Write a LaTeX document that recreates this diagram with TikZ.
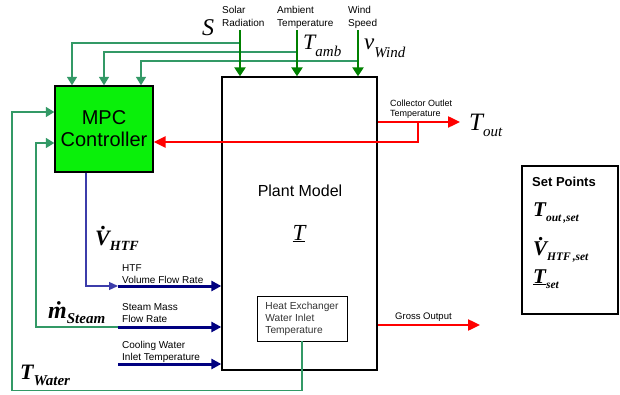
\documentclass[tikz,border=0pt]{standalone}
\usepackage{fontspec}
\setmainfont{Liberation Sans}
\newfontfamily\tms{Liberation Serif}
\usetikzlibrary{arrows.meta,positioning}
\definecolor{mpcgreen}{RGB}{10,240,10}
\definecolor{dkgreen}{RGB}{0,128,0}
\definecolor{sgreen}{RGB}{51,153,102}
\definecolor{navy}{RGB}{0,0,128}
\definecolor{vblue}{RGB}{60,60,170}
% [series]{size}{lower}{subsize}{main}{sub}
\newcommand{\varsym}[6][]{{\tms\itshape#1\fontsize{#2}{#2}\selectfont #5\raisebox{-#3}{\fontsize{#4}{#4}\selectfont #6}}}
\newcommand{\dotover}[1]{\ooalign{#1\cr\hidewidth\kern0.12em\raisebox{0.7em}{.}\hidewidth\cr}}

\begin{document}
\begin{tikzpicture}[x=1pt,y=-1pt,
    box/.style={draw,line width=1.3pt,inner sep=0pt},
    lbl/.style={font=\fontsize{10}{11.5}\selectfont,align=left,inner sep=0pt,anchor=north west},
    toplbl/.style={lbl,font=\fontsize{10}{13}\selectfont},
    feed/.style={draw=dkgreen,line width=2.6pt,-{Triangle[length=9pt,width=11pt]}},
    tap/.style={draw=sgreen,line width=1.5pt},
    tapin/.style={tap,-{Triangle[length=8.5pt,width=10pt]}},
    hot/.style={draw=red,line width=2.4pt,-{Triangle[length=12pt,width=11pt]}},
    flow/.style={draw=navy,line width=3pt,-{Triangle[length=10pt,width=10pt]}},
    sym/.style={inner sep=0pt,anchor=base west}]
  \useasboundingbox (0,0) rectangle (620,395);

  % blocks
  \node[box,fill=mpcgreen,minimum width=98pt,minimum height=86pt,align=center,
        font=\fontsize{20}{22}\selectfont] (mpc) at (104,129) {MPC\\Controller};
  \node[box,minimum width=155pt,minimum height=293pt] (plant) at (299.5,223.5) {};
  \node[font=\fontsize{16}{18}\selectfont] (plantlbl) at (300,191) {Plant Model};
  \node[sym,anchor=base,font=\tms\itshape\fontsize{23}{23}\selectfont] (plantT) at (299,240) {\underline{T}};
  \node[draw,line width=0.8pt,minimum width=90pt,minimum height=45pt,inner sep=0pt,
        align=left,text=black!80,font=\fontsize{10.2}{12}\selectfont] (hx) at (302,318.5)
        {Heat Exchanger\\Water Inlet\\Temperature};
  \node[box,minimum width=96pt,minimum height=148pt] (setpts) at (570,240) {};

  % set points
  \node[sym,font=\bfseries\fontsize{13}{13}\selectfont] (sptitle) at (532,187) {Set Points};
  \node[sym] (sptout) at (533,217) {\varsym[\bfseries]{21}{5pt}{11.5}{T}{out\,,set}};
  \node[sym] (spvhtf) at (533,255) {\varsym[\bfseries]{21}{5pt}{11.5}{\dotover{V}}{HTF\,,set}};
  \node[sym] (sptset) at (533,283) {\varsym[\bfseries]{21}{5pt}{11.5}{\underline{T}}{set}};

  % weather inputs
  \coordinate (solar) at (240,30);
  \coordinate (amb) at (297,30);
  \coordinate (wind) at (358,30);
  \node[toplbl] (solarlbl) at (222,6.5) {Solar\\Radiation};
  \node[toplbl] (amblbl) at (277,6.5) {Ambient\\Temperature};
  \node[toplbl] (windlbl) at (348,6.5) {Wind\\Speed};
  \node[sym,font=\tms\itshape\fontsize{24}{24}\selectfont] (symS) at (202,36) {S};
  \node[sym] (symamb) at (303,50) {\varsym{22}{7pt}{15}{T}{amb}};
  \node[sym] (symwind) at (364,50) {\varsym{23}{8pt}{15}{v}{Wind}};
  \draw[tapin] ([yshift=-13pt]solar) -| ([xshift=-32pt]mpc.north);
  \draw[tapin] ([yshift=-22pt]amb) -| (mpc.north);
  \draw[tapin] ([yshift=-31pt]wind) -| ([xshift=37pt]mpc.north);
  \draw[feed] (solar) -- (solar |- plant.north);
  \draw[feed] (amb) -- (amb |- plant.north);
  \draw[feed] (wind) -- (wind |- plant.north);

  % outputs
  \coordinate (outtap) at (418,122);
  \coordinate (toutend) at (460,122);
  \coordinate (grossend) at (480,325);
  \draw[hot] (outtap) |- ([yshift=-13pt]mpc.east);
  \draw[hot] (plant.east |- toutend) -- (toutend);
  \draw[hot] (plant.east |- grossend) -- (grossend);
  \node[lbl,font=\fontsize{9}{10}\selectfont] (outlbl) at (390,99.5) {Collector Outlet\\Temperature};
  \node[sym] (symtout) at (469,131) {\varsym{25}{6pt}{15}{T}{out}};
  \node[lbl,font=\fontsize{9.5}{11}\selectfont] (grosslbl) at (395,312.5) {Gross Output};

  % manipulated / measured inputs
  \coordinate (htfin) at (118,286);
  \coordinate (steamin) at (118,327);
  \coordinate (coolin) at (118,364);
  \draw[draw=vblue,line width=1.2pt,-{Triangle[length=9pt,width=8pt]}]
    ([xshift=-18pt]mpc.south) |- (htfin);
  \draw[tapin] (steamin) -- ++(-82,0) |- ([yshift=-14pt]mpc.west);
  \draw[tapin] (hx.south) -- ++(0,49) -- ++(-290,0) |- ([yshift=17pt]mpc.west);
  \draw[flow] (htfin) -- (plant.west |- htfin);
  \draw[flow] (steamin) -- (plant.west |- steamin);
  \draw[flow] (coolin) -- (plant.west |- coolin);
  \node[lbl] (htflbl) at (122,264.5) {HTF\\Volume Flow Rate};
  \node[lbl] (steamlbl) at (122,303.5) {Steam Mass\\Flow Rate};
  \node[lbl] (coollbl) at (122,341.5) {Cooling Water\\Inlet Temperature};
  \node[sym] (symvhtf) at (95,245) {\varsym[\bfseries]{22}{5pt}{14}{\dotover{V}}{HTF}};
  \node[sym] (symmsteam) at (48,318) {\varsym[\bfseries]{24}{5pt}{15}{\.{m}}{Steam}};
  \node[sym] (symtwater) at (20,379) {\varsym[\bfseries]{22}{6pt}{15}{T}{Water}};
\end{tikzpicture}
\end{document}
